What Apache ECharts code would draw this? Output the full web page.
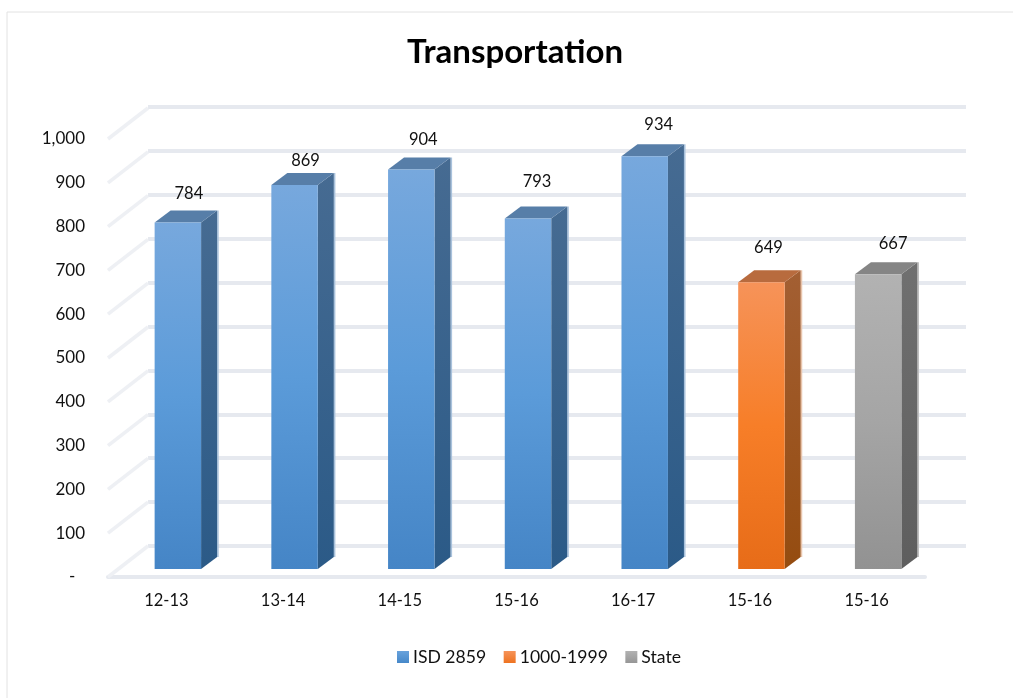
<!DOCTYPE html>
<html>
<head>
<meta charset="utf-8">
<style>html,body{margin:0;padding:0;background:#fff}#c{width:1013px;height:698px}</style>
<script src="https://cdn.jsdelivr.net/npm/echarts@6/dist/echarts.min.js"></script>
</head>
<body>
<div id="c"></div>
<script>
var categories = ['12-13', '13-14', '14-15', '15-16', '16-17', '15-16', '15-16'];
var isdValues = [784, 869, 904, 793, 934, null, null];
var bandValues = [null, null, null, null, null, 649, null];
var stateValues = [null, null, null, null, null, null, 667];
var seriesNames = ['ISD 2859', '1000-1999', 'State'];
var chartTitle = 'Transportation';
var axisTicks = [0, 100, 200, 300, 400, 500, 600, 700, 800, 900, 1000];

// Style and layout
var labelShift = [[11, -28.5], [11, -24.5], [12, -29.5], [9, -36.5], [14, -31.5], [7, -34], [15, -30.5]];
var barDepth = [16, -12];
var wallDepth = [40, -31];
var palette = [
  { front: ['#77a8dd', '#5b9bd9', '#4585c6'], side: ['#466b92', '#2b5a87'], top: '#577ea8', edge: '#a9c2dc', key: ['#68a2dc', '#4688c9'] },
  { front: ['#f69359', '#f77e28', '#e76c18'], side: ['#a35f33', '#954c10'], top: '#b86b3e', edge: '#e8c4ab', key: ['#f69359', '#ee7320'] },
  { front: ['#b2b2b2', '#a5a5a5', '#929292'], side: ['#707070', '#5e5e5e'], top: '#858585', edge: '#bdbdbd', key: ['#b2b2b2', '#969696'] }
];

function pairs(values) {
  var out = [];
  values.forEach(function (v, i) { if (v !== null) out.push([i, v]); });
  return out;
}
function vGrad(stops) {
  return {
    type: 'linear', x: 0, y: 0, x2: 0, y2: 1,
    colorStops: stops.map(function (c, i) { return { offset: i / (stops.length - 1), color: c }; })
  };
}
function barRenderer(style) {
  return function (params, api) {
    var i = api.value(0), v = api.value(1);
    var t = api.coord([i, v]), b = api.coord([i, 0]);
    var w = api.size([1, 0])[0] * 0.398;
    var xl = t[0] - w / 2, xr = t[0] + w / 2;
    var dx = barDepth[0], dy = barDepth[1];
    var s = labelShift[i];
    return {
      type: 'group',
      children: [
        { type: 'line', shape: { x1: xr + dx + 0.8, y1: t[1] + dy, x2: xr + dx + 0.8, y2: b[1] + dy },
          style: { stroke: style.edge, lineWidth: 1.6 } },
        { type: 'polygon', shape: { points: [[xr, t[1]], [xr + dx, t[1] + dy], [xr + dx, b[1] + dy], [xr, b[1]]] },
          style: { fill: vGrad(style.side) } },
        { type: 'polygon', shape: { points: [[xl, t[1]], [xl + dx, t[1] + dy], [xr + dx, t[1] + dy], [xr, t[1]]] },
          style: { fill: style.top } },
        { type: 'rect', shape: { x: xl, y: t[1], width: w, height: b[1] - t[1] },
          style: { fill: vGrad(style.front) } },
        { type: 'text', style: { text: String(v), x: t[0] + s[0], y: t[1] + s[1], align: 'center', verticalAlign: 'middle',
          font: '16.5px Lato', fill: '#111' } }
      ]
    };
  };
}
function sideWallRenderer(params, api) {
  var p = api.coord([0, api.value(0)]);
  var x = params.coordSys.x;
  return {
    type: 'line',
    shape: { x1: x, y1: p[1], x2: x + wallDepth[0], y2: p[1] + wallDepth[1] },
    style: { stroke: '#eef0f4', lineWidth: 3.5 }
  };
}
function catAxis(idx, visible) {
  return {
    type: 'category', gridIndex: idx, data: categories, boundaryGap: true,
    axisTick: { show: false },
    axisLine: { show: visible, lineStyle: { color: '#e6e9ef', width: 4 } },
    axisLabel: visible ? { show: true, color: '#111', fontFamily: 'Lato', fontSize: 16.5, margin: 15 } : { show: false }
  };
}
function valAxis(idx, labels, lines) {
  return {
    type: 'value', gridIndex: idx, min: 0, max: 1000, interval: 100,
    axisLine: { show: false }, axisTick: { show: false },
    splitLine: { show: lines, lineStyle: { color: '#e6e9ef', width: 4 } },
    axisLabel: labels ? {
      show: true, color: '#111', fontFamily: 'Lato', fontSize: 17, margin: 23,
      formatter: function (v) { return v === 0 ? '-  \u200a' : v.toLocaleString('en-US'); }
    } : { show: false }
  };
}
var barSeries = [isdValues, bandValues, stateValues].map(function (vals, k) {
  return {
    type: 'custom', name: seriesNames[k], xAxisIndex: 1, yAxisIndex: 1, z: 5, clip: false,
    itemStyle: { color: vGrad(palette[k].key) },
    encode: { x: 0, y: 1 },
    data: pairs(vals), renderItem: barRenderer(palette[k])
  };
});
var option = {
  backgroundColor: '#fff',
  animation: false,
  title: {
    text: chartTitle, left: 515, textAlign: 'center', top: 31,
    textStyle: { fontFamily: 'Lato', fontWeight: 'bold', fontSize: 33, color: '#000' }
  },
  legend: {
    data: seriesNames.map(function (n, k) {
      return { name: n, icon: 'rect', itemStyle: { color: vGrad(palette[k].key) } };
    }),
    left: 392, top: 643, itemWidth: 12, itemHeight: 12, itemGap: 17.5,
    textStyle: { fontFamily: 'Lato', fontSize: 17.6, color: '#111', padding: [0, 0, 0, -1] }
  },
  grid: [
    { left: 108, top: 139, width: 817, height: 438 },
    { left: 119.5, top: 127, width: 817, height: 442 },
    { left: 148, top: 107, width: 818, height: 439 }
  ],
  xAxis: [catAxis(0, true), catAxis(1, false), catAxis(2, false)],
  yAxis: [valAxis(0, true, false), valAxis(1, false, false), valAxis(2, false, true)],
  graphic: [
    { type: 'line', silent: true, z: 0, shape: { x1: 7, y1: 12, x2: 1013, y2: 12 }, style: { stroke: '#e2e2e2', lineWidth: 1 } },
    { type: 'line', silent: true, z: 0, shape: { x1: 7, y1: 12, x2: 7, y2: 698 }, style: { stroke: '#e2e2e2', lineWidth: 1 } }
  ],
  series: [{
    type: 'custom', xAxisIndex: 0, yAxisIndex: 0, z: 1, clip: false, silent: true,
    encode: { y: 0 },
    data: axisTicks.map(function (t) { return [t]; }),
    renderItem: sideWallRenderer
  }].concat(barSeries)
};
option.title.left = 510;
echarts.init(document.getElementById('c'), null, { renderer: 'canvas' }).setOption(option);
</script>
</body>
</html>
